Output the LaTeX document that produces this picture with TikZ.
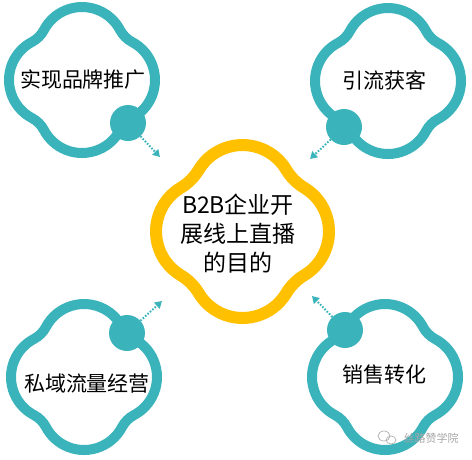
\documentclass[tikz,border=0pt]{standalone}
\usepackage{fontspec}
\setmainfont{Noto Sans CJK SC}
\usetikzlibrary{arrows.meta}
\definecolor{tealc}{RGB}{58,179,187}
\definecolor{goldc}{RGB}{255,192,0}
% four-lobed ring: style, centre, lobe offset, lobe radius, notch distance
\newcommand{\cloudring}[5]{%
  \pgfmathsetmacro{\cD}{(#3*#3-(#4-#5)*(#4-#5))/(1.41421*#3+2*(#4-#5))}
  \pgfmathsetmacro{\cf}{\cD-#5}
  \pgfmathsetmacro{\cb}{atan2(\cD/1.41421, \cD/1.41421-#3)}
  \draw[#1, shift={#2}] ({#3+#4*cos(\cb)}, {-#4*sin(\cb)})
    \foreach \k in {0,...,3}{
      arc[start angle=90*\k-\cb, end angle=90*\k+\cb, radius=#4]
      arc[start angle=90*\k+180+\cb, end angle=90*\k+270-\cb, radius=\cf]
    } -- cycle;}

\begin{document}
\begin{tikzpicture}[x=1pt, y=-1pt,
  ring/.style = {tealc, line width=10pt},
  bigring/.style = {goldc, line width=12pt},
  goal/.style = {inner sep=0pt, font=\fontsize{21}{25}\selectfont},
  knob/.style = {circle, fill=tealc, minimum size=36pt, inner sep=0pt},
  link/.style = {tealc, line width=2pt, dash pattern=on 1.6pt off 1.6pt,
    -{Triangle[length=7pt, width=8pt]}}]
  \useasboundingbox (0,0) rectangle (472,459);

  % rings
  \cloudring{ring}{(82,80)}{30}{43}{61}
  \cloudring{ring}{(388,81)}{30}{43}{61}
  \cloudring{ring}{(84,377)}{30}{43}{61}
  \cloudring{ring}{(385,377)}{30}{43}{61}
  \cloudring{bigring}{(242.5,231.5)}{35.5}{51}{73}

  % knobs on the rings
  \node[knob] (k1) at (128,123) {};
  \node[knob] (k2) at (344,127) {};
  \node[knob] (k3) at (127,333) {};
  \node[knob] (k4) at (345,330) {};

  % arrow ends
  \coordinate (e1) at (160,157);
  \coordinate (e2) at (310,159);
  \coordinate (e3) at (162,301);
  \coordinate (e4) at (312,296);
  \draw[link] (k1) -- (e1);
  \draw[link] (k2) -- (e2);
  \draw[link] (k3) -- (e3);
  \draw[link] (k4) -- (e4);

  % texts
  \node[goal] (g1) at (83,80) {实现品牌推广};
  \node[goal] (g2) at (384,80) {引流获客};
  \node[goal] (g3) at (87,384) {私域流量经营};
  \node[goal] (g4) at (384,375) {销售转化};
  \node[inner sep=0pt, align=center, font=\fontsize{23}{29}\selectfont] (aim) at (238,234)
    {B2B企业开\\展线上直播\\的目的};

  % watermark
  \draw[gray!60, line width=0.7pt] (384,436) ellipse (6 and 5);
  \draw[gray!60, line width=0.7pt] (391,440) ellipse (5 and 4);
  \node[inner sep=0pt, text=gray!70, font=\fontsize{11}{11}\selectfont] (wm) at (431,438) {丝路赞学院};
\end{tikzpicture}
\end{document}
